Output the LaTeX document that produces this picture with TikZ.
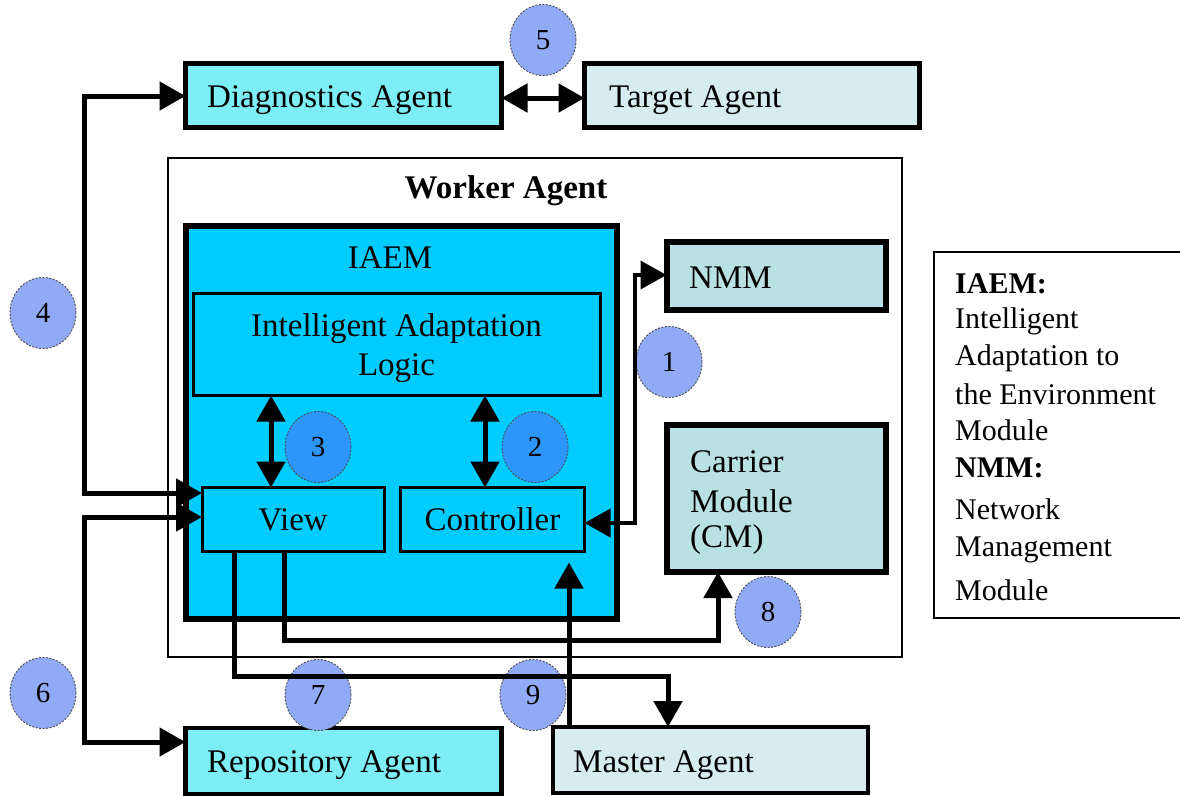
\documentclass[tikz,border=0pt]{standalone}
\usepackage{fontspec}
\setmainfont{Liberation Serif}
\usetikzlibrary{arrows.meta,shapes.geometric}
\definecolor{iaemfill}{RGB}{0,204,255}
\definecolor{diagfill}{RGB}{125,238,245}
\definecolor{targfill}{RGB}{215,236,238}
\definecolor{nmmfill}{RGB}{185,224,227}
\definecolor{numlight}{RGB}{145,170,245}
\definecolor{numdark}{RGB}{45,150,250}
\tikzset{
  rbox/.style={draw=black, line width=#1, inner sep=0pt, outer sep=0pt},
  rbox/.default=4.5pt,
  lbl/.style={inner sep=0pt, font=\fontsize{33}{38}\selectfont},
  lgd/.style={inner sep=0pt, anchor=west, font=\fontsize{30}{35}\selectfont},
  numc/.style={ellipse, draw=black!70, line width=0.9pt, dash pattern=on 2pt off 1.5pt,
    minimum width=66pt, minimum height=71pt, inner sep=0pt, fill=numlight,
    font=\fontsize{29}{33}\selectfont},
  tip/.style={-{Triangle[length=26pt,width=28pt]}},
  dtip/.style={{Triangle[length=26pt,width=28pt]}-{Triangle[length=26pt,width=28pt]}},
  arr/.style={line width=5pt, line join=miter},
}
\begin{document}
\begin{tikzpicture}[x=1pt,y=-1pt]
\useasboundingbox (0,0) rectangle (1180,796);

% Worker agent container
\node[rbox=2pt, fill=white, minimum width=734pt, minimum height=499pt] (worker) at (535,407.5) {};
\node[lbl, font=\fontsize{33}{38}\selectfont\bfseries] (workerT) at (506,191) {Worker Agent};

% IAEM
\node[rbox=5.5pt, fill=iaemfill, minimum width=431pt, minimum height=393pt] (iaem) at (401.5,422.5) {};
\node[lbl] (iaemT) at (390,258) {IAEM};
\node[rbox=3pt, fill=iaemfill, minimum width=407pt, minimum height=102pt] (ial) at (396.5,344.5) {};
\node[lbl, align=center, font=\fontsize{33}{39}\selectfont] (ialT) at (396.5,348) {Intelligent Adaptation\\Logic};
\node[rbox=3pt, fill=iaemfill, minimum width=182pt, minimum height=64pt, font=\fontsize{33}{38}\selectfont] (view) at (293,519.5) {View};
\node[rbox=3pt, fill=iaemfill, minimum width=184pt, minimum height=64pt, font=\fontsize{33}{38}\selectfont] (ctrl) at (492.5,519.5) {Controller};

% NMM and Carrier
\node[rbox=6pt, fill=nmmfill, minimum width=219pt, minimum height=68pt] (nmm) at (776,276) {};
\node[lbl, anchor=west] (nmmT) at (689,278) {NMM};
\node[rbox=6pt, fill=nmmfill, minimum width=219pt, minimum height=147pt] (cm) at (776,498.5) {};
\node[lbl, anchor=west] (cmT1) at (690,462) {Carrier};
\node[lbl, anchor=west] (cmT2) at (690,501) {Module};
\node[lbl, anchor=west] (cmT3) at (690,540) {(CM)};

% Outside agents
\node[rbox, fill=diagfill, minimum width=316pt, minimum height=64pt] (diag) at (343.5,95.5) {};
\node[lbl, anchor=west] (diagT) at (207,100) {Diagnostics Agent};
\node[rbox, fill=targfill, minimum width=335pt, minimum height=64pt] (targ) at (752,95.5) {};
\node[lbl, anchor=west] (targT) at (609,100) {Target Agent};
\node[rbox, fill=diagfill, minimum width=316pt, minimum height=66pt] (repo) at (343.5,761) {};
\node[lbl, anchor=west] (repoT) at (207,765) {Repository Agent};
\node[rbox, fill=targfill, minimum width=315pt, minimum height=66pt] (mast) at (710.5,760) {};
\node[lbl, anchor=west] (mastT) at (573,765) {Master Agent};

% Legend
\node[rbox=2pt, fill=white, minimum width=250pt, minimum height=366pt] (legend) at (1059,435) {};
\node[lgd, font=\fontsize{30}{35}\selectfont\bfseries] (l1) at (955,284) {IAEM:};
\node[lgd] (l2) at (955,321) {Intelligent};
\node[lgd] (l3) at (955,358) {Adaptation to};
\node[lgd] (l4) at (955,394) {the Environment};
\node[lgd] (l5) at (955,430) {Module};
\node[lgd, font=\fontsize{30}{35}\selectfont\bfseries] (l6) at (955,468) {NMM:};
\node[lgd] (l7) at (955,509) {Network};
\node[lgd] (l8) at (955,550) {Management};
\node[lgd] (l9) at (955,590) {Module};

% Circles
\node[numc] (n5) at (543,40) {5};
\node[numc] (n4) at (43,313) {4};
\node[numc] (n6) at (43,693) {6};
\node[numc] (n1) at (669,362) {1};
\node[numc, fill=numdark] (n3) at (318,447) {3};
\node[numc, fill=numdark] (n2) at (535,447) {2};
\node[numc] (n8) at (768,612) {8};
\node[numc] (n7) at (318,695) {7};
\node[numc] (n9) at (533,695) {9};

% Coordinates for connector corners
\coordinate (c4a) at (84,96);
\coordinate (c4b) at (84,493);
\coordinate (c6a) at (84,517);
\coordinate (c6b) at (84,742);
\coordinate (c1a) at (635,523);
\coordinate (c1b) at (635,275);
\coordinate (c7a) at (234,676);
\coordinate (c7b) at (668,676);
\coordinate (c8a) at (284,640);
\coordinate (c8b) at (718,640);

% Connectors
\draw[arr, dtip] (diag.east |- 0,98) -- (targ.west |- 0,98);
\draw[arr, dtip] (diag.west |- c4a) -- (c4a) -- (c4b) -- (view.west |- c4b);
\draw[arr, dtip] (view.west |- c6a) -- (c6a) -- (c6b) -- (repo.west |- c6b);
\draw[arr, line width=4pt, dtip] (ctrl.east |- c1a) -- (c1a) -- (c1b) -- (nmm.west |- c1b);
\draw[arr, dtip] (ial.south -| 271,0) -- (view.north -| 271,0);
\draw[arr, dtip] (ial.south -| 485,0) -- (ctrl.north -| 485,0);
\draw[arr, tip] (view.south -| c7a) -- (c7a) -- (c7b) -- (mast.north -| c7b);
\draw[arr, tip] (view.south -| c8a) -- (c8a) -- (c8b) -- (cm.south -| c8b);
\draw[arr, tip, shorten >=11pt] (mast.north -| 569,0) -- (ctrl.south -| 569,0);
\end{tikzpicture}
\end{document}
